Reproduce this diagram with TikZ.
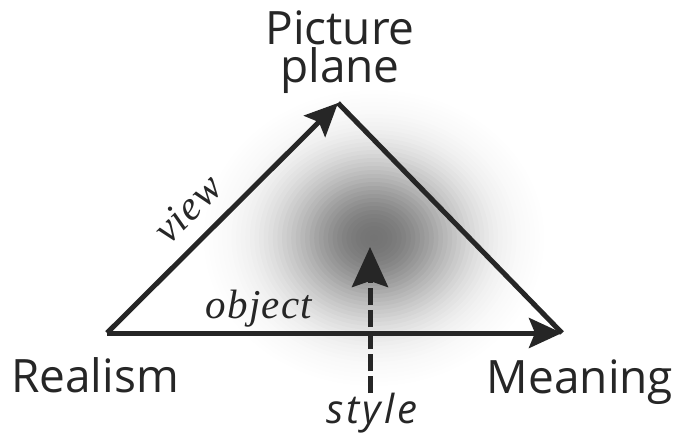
\documentclass[tikz,border=0pt]{standalone}
\usepackage{fontspec}
\setmainfont{Open Sans}
\newfontfamily\serifit{Liberation Serif}
\usetikzlibrary{arrows.meta}
\tikzset{
  edge/.style={line width=5pt, color=black!85},
  head/.style={-{Stealth[length=33pt,width=30pt,inset=6pt]}},
  dhead/.style={-{Stealth[length=40pt,width=36pt,inset=6pt]}},
  bigtext/.style={font=\fontsize{46}{38}\selectfont, text=black!85, inner sep=0pt},
  edgelabel/.style={font=\serifit\itshape\fontsize{41}{41}\selectfont\addfontfeature{LetterSpace=3}, text=black!85, inner sep=0pt},
  stylelabel/.style={font=\itshape\fontsize{40}{40}\selectfont\addfontfeature{LetterSpace=7}, text=black!85, inner sep=0pt}
}
\begin{document}
\begin{tikzpicture}[x=1pt,y=-1pt]
\useasboundingbox (0,0) rectangle (675,441);
\fill[white] (0,0) rectangle (675,441);
\coordinate (C) at (374,238);
\foreach \k in {50,49,...,1} {
  \pgfmathsetmacro\rr{\k*4}
  \pgfmathsetmacro\rx{\k*4.6}
  \pgfmathsetmacro\ro{(\k-1)*4}
  \pgfmathsetmacro\Tin{1-0.52*exp(-((\ro/52)^2)/2)}
  \pgfmathsetmacro\Tout{1-0.52*exp(-((\rr/52)^2)/2)}
  \pgfmathsetmacro\al{1-\Tin/\Tout}
  \fill[black, fill opacity=\al] (C) ellipse [x radius=\rx pt, y radius=\rr pt];
}
\coordinate (R) at (107,333);
\coordinate (P) at (338,103);
\coordinate (M) at (562,333);
\coordinate (S0) at (370,393);
\coordinate (S1) at (370,247);
\draw[edge, line cap=butt] (P) -- (M);
\draw[edge, head] (R) -- (P);
\draw[edge, head] (R) -- (M);
\draw[edge, dhead, dash pattern=on 17pt off 5pt] (S0) -- (S1);
\node[bigtext, align=center, anchor=north] (pp) at (340,11) {Picture\\plane};
\node[bigtext, anchor=base] (re) at (95,392) {Realism};
\node[bigtext, anchor=base] (me) at (580,393) {Meaning};
\node[stylelabel, anchor=base] (st) at (372,423) {style};
\node[edgelabel, anchor=base] (ob) at (259,318) {object};
\node[edgelabel, anchor=base, rotate=45] (vi) at (197,218) {view};
\end{tikzpicture}
\end{document}
